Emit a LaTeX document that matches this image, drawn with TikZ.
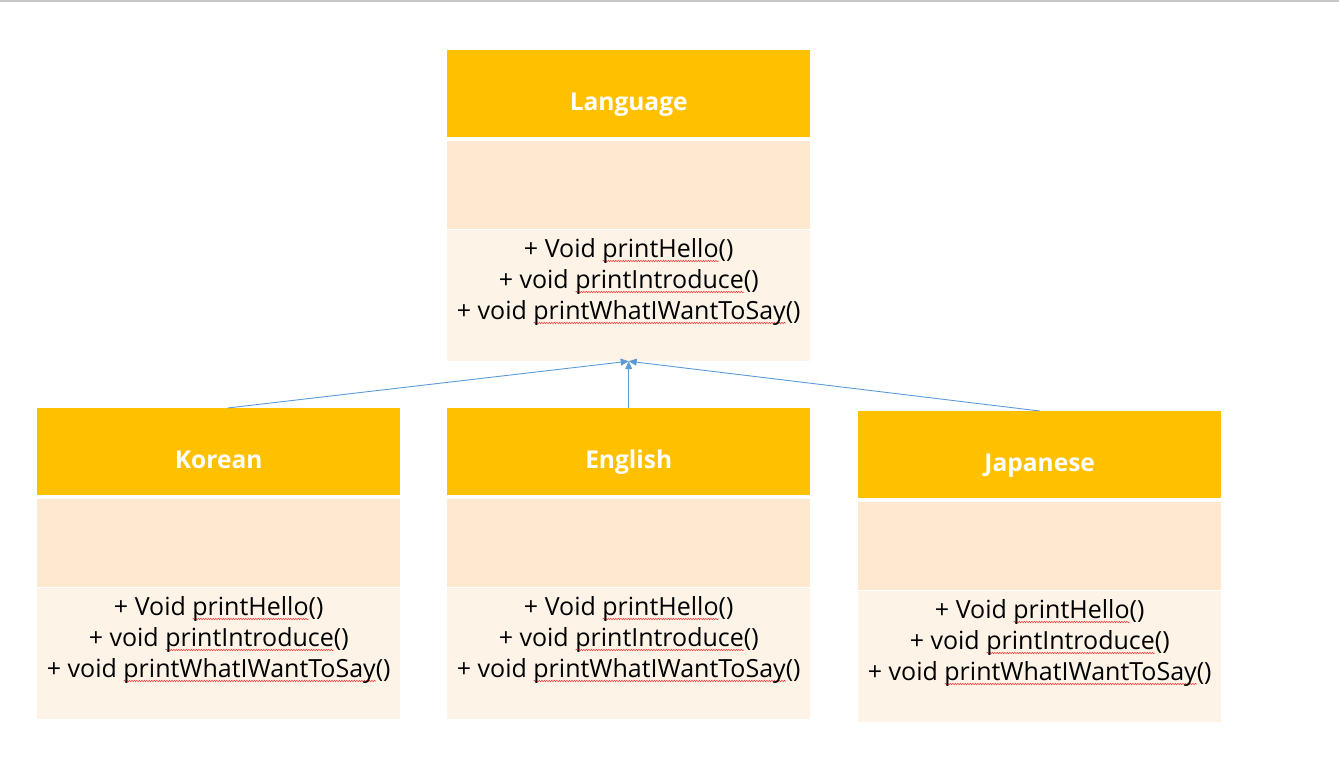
\documentclass[tikz,border=0pt]{standalone}
\usepackage{fontspec}
\setmainfont{Open Sans}
\usetikzlibrary{positioning,arrows.meta,decorations.pathmorphing}
\definecolor{hdrgold}{HTML}{FFC000}
\definecolor{attrfill}{HTML}{FEE8CF}
\definecolor{opsfill}{HTML}{FEF3E7}
\definecolor{linkblue}{HTML}{5B9BD5}
\definecolor{spellred}{HTML}{F03030}
% red spell-check wave under a word
\newlength\spellwd
\newcommand\spell[1]{\settowidth\spellwd{#1}\rlap{\tikz[x=1pt,y=1pt,baseline=0pt]{\draw[spellred, line width=0.5pt, decorate, decoration={snake, amplitude=0.7pt, segment length=2.5pt}] (0,-3.5) -- (\spellwd,-3.5);}}#1}
% one class box: name, left x, top y, title
\newcommand\umlclass[4]{%
\node[header, anchor=north west] (#1) at (#2,#3) {};
\node[title, anchor=base] (#1-title) at ([yshift=-16.5pt]#1.center) {#4};
\node[attrbox, below=3pt of #1] (#1-attr) {};
\node[opsbox, below=1pt of #1-attr] (#1-ops) {};
\node[opstext, below=8.5pt of #1-ops.north] (#1-text) {+ Void \spell{printHello}()\\+ void \spell{printIntroduce}()\\+ void \spell{printWhatIWantToSay}()};
}

\begin{document}
\begin{tikzpicture}[x=1pt,y=-1pt,
  header/.style={fill=hdrgold, minimum width=363pt, minimum height=87pt, inner sep=0pt},
  title/.style={text=white, font=\bfseries\fontsize{24.5}{30}\selectfont, inner sep=0pt},
  attrbox/.style={fill=attrfill, minimum width=363pt, minimum height=88pt, inner sep=0pt},
  opsbox/.style={fill=opsfill, minimum width=363pt, minimum height=131pt, inner sep=0pt},
  opstext/.style={align=center, font=\fontsize{25}{31}\selectfont, inner sep=0pt},
  link/.style={draw=linkblue, line width=0.9pt, -{Triangle[length=8pt,width=7pt]}}]
  \useasboundingbox (0,0) rectangle (1339,761);
  \draw[line width=1.5pt, gray!45] (0,0.75) -- (1339,0.75);

  % classes
  \umlclass{lang}{447}{50}{Language}
  \umlclass{korean}{37}{408}{Korean}
  \umlclass{english}{447}{408}{English}
  \umlclass{japanese}{858}{411}{Japanese}

  % inheritance
  \draw[link] ([xshift=9pt]korean.north) -- (lang-ops.south);
  \draw[link] (english.north) -- (lang-ops.south);
  \draw[link] (japanese.north) -- (lang-ops.south);
\end{tikzpicture}
\end{document}
